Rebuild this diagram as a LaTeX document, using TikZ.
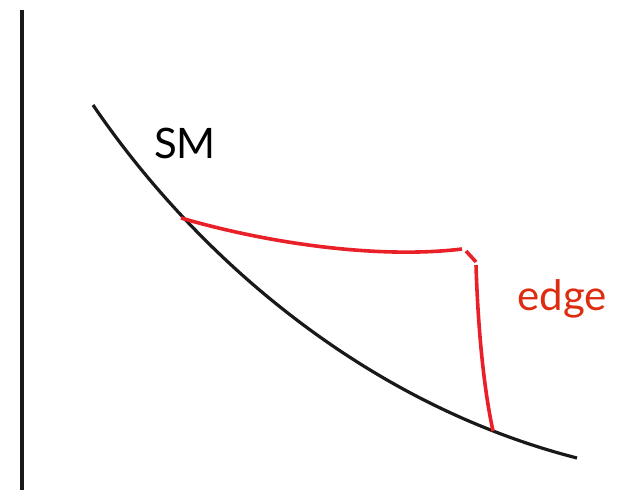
\documentclass[tikz,border=0pt]{standalone}
\usepackage{fontspec}
\setmainfont{Lato}
\usetikzlibrary{positioning}
\definecolor{EdgeRed}{RGB}{234,32,40}
\definecolor{LabelRed}{RGB}{222,44,16}

\begin{document}
\begin{tikzpicture}[
  x=1pt, y=-1pt,
  axis/.style={line width=3.6pt, black!90},
  smline/.style={line width=3.2pt, black!90},
  edgeline/.style={line width=3.6pt, EdgeRed},
  curvelabel/.style={font=\fontsize{42}{42}\selectfont, inner sep=0pt}
]
\useasboundingbox (0,0) rectangle (640,490);
% axis
\coordinate (ytop) at (22,10);
\coordinate (ybot) at (22,490);
\draw[axis] (ytop) -- (ybot);
% SM curve
\coordinate (smstart) at (93,105);
\coordinate (smend) at (577,458);
\draw[smline] (smstart) .. controls (200,262) and (370,405) .. (smend);
\node[curvelabel] (sm) at (185,143) {SM};
% edge
\coordinate (ea) at (181,218);
\coordinate (eb) at (462,249);
\coordinate (ec) at (466,251);
\coordinate (ed) at (476,262);
\coordinate (ee) at (476,265);
\coordinate (ef) at (493,431);
\draw[edgeline] (ea) .. controls (270,244) and (380,259) .. (eb);
\draw[edgeline] (ec) -- (ed);
\draw[edgeline] (ee) .. controls (478,330) and (484,390) .. (ef);
\node[curvelabel, text=LabelRed] (edge) at (562,299) {edge};
\end{tikzpicture}
\end{document}
